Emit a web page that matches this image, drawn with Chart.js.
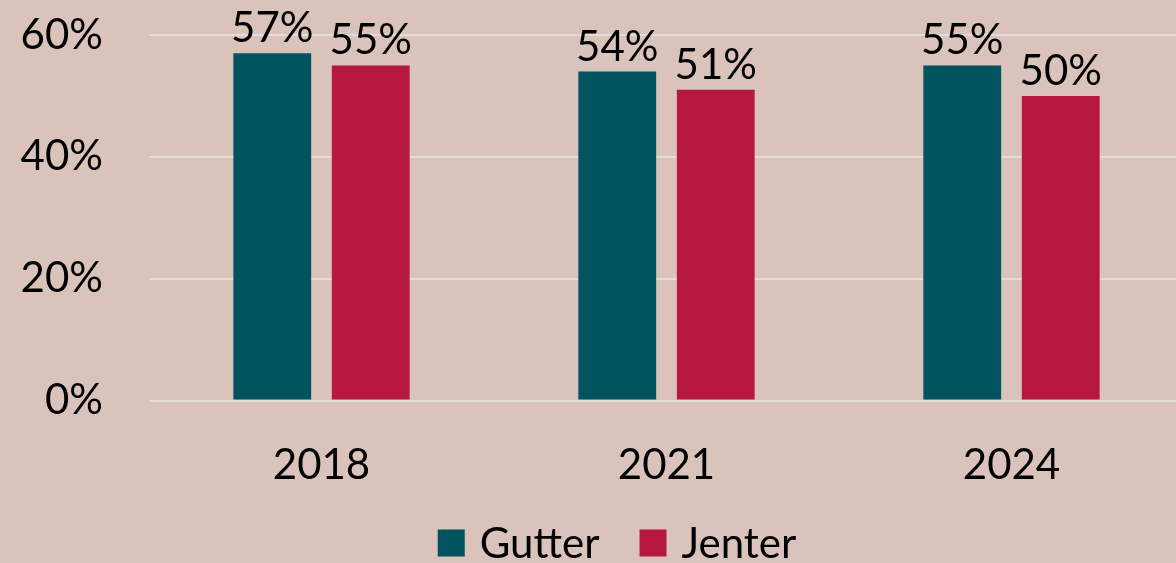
<!DOCTYPE html>
<html>
<head>
<meta charset="utf-8">
<script src="https://cdn.jsdelivr.net/npm/chart.js@4.4.1/dist/chart.umd.min.js"></script>
<style>
html,body{margin:0;padding:0;background:#d9c3bb;}
#wrap{width:1176px;height:563px;position:relative;}
</style>
</head>
<body>
<div id="wrap"><canvas id="c" width="1176" height="563"></canvas></div>
<script>
const categories = ['2018', '2021', '2024'];
const gutter = [57, 54, 55];
const jenter = [55, 51, 50];
const yTicks = [0, 20, 40, 60];
const seriesNames = ['Gutter', 'Jenter'];
const seriesColors = ['#00535f', '#b5173d'];

const FONT = 'Lato, "Open Sans", sans-serif';
const FS = 42;
const PLOT_OVERHANG = 8; // plot area extends slightly past the right edge in the original

const overhangPlugin = {
  id: 'overhang',
  afterLayout(chart) {
    const x = chart.scales.x;
    x.right += PLOT_OVERHANG;
    x.width += PLOT_OVERHANG;
    x.configure();
    chart.chartArea.right += PLOT_OVERHANG;
    chart.chartArea.width += PLOT_OVERHANG;
  }
};

const labelPlugin = {
  id: 'barLabels',
  afterDatasetsDraw(chart) {
    const ctx = chart.ctx;
    ctx.save();
    ctx.font = FS + 'px ' + FONT;
    ctx.fillStyle = '#000';
    ctx.textAlign = 'center';
    ctx.textBaseline = 'alphabetic';
    chart.data.datasets.forEach((ds, i) => {
      chart.getDatasetMeta(i).data.forEach((bar, j) => {
        ctx.fillText(ds.data[j] + '%', bar.x, bar.y - 11);
      });
    });
    ctx.restore();
  }
};

const legendPlugin = {
  id: 'customLegend',
  afterDraw(chart) {
    const ctx = chart.ctx;
    ctx.save();
    ctx.font = FS + 'px ' + FONT;
    ctx.textBaseline = 'middle';
    ctx.textAlign = 'left';
    const box = 27, gapText = 15, gapItem = 40;
    const items = chart.data.datasets.map(ds => ({ label: ds.label, color: ds.backgroundColor, w: ctx.measureText(ds.label).width }));
    let total = 0;
    items.forEach((it, i) => { total += box + gapText + it.w + (i < items.length - 1 ? gapItem : 0); });
    let x = 617 - total / 2;
    const cy = 543;
    items.forEach(it => {
      ctx.fillStyle = it.color;
      ctx.fillRect(x, cy - box / 2, box, box);
      ctx.fillStyle = '#000';
      ctx.fillText(it.label, x + box + gapText, cy + 1);
      x += box + gapText + it.w + gapItem;
    });
    ctx.restore();
  }
};

new Chart(document.getElementById('c'), {
  type: 'bar',
  data: {
    labels: categories,
    datasets: [
      { label: seriesNames[0], data: gutter, backgroundColor: seriesColors[0] },
      { label: seriesNames[1], data: jenter, backgroundColor: seriesColors[1] }
    ]
  },
  options: {
    responsive: false,
    animation: false,
    devicePixelRatio: 1,
    layout: { padding: { top: 35, right: 0, left: 0, bottom: 32 } },
    datasets: { bar: { categoryPercentage: 0.571, barPercentage: 0.79 } },
    plugins: {
      legend: { display: false },
      tooltip: { enabled: false }
    },
    scales: {
      y: {
        min: 0, max: 60,
        afterFit(s) { s.width = 149; s.paddingTop = 0; s.paddingBottom = 0; },
        afterBuildTicks(s) { s.ticks = yTicks.map(v => ({ value: v })); },
        ticks: {
          padding: 46,
          color: '#000',
          font: { size: FS, family: FONT },
          callback: v => v + '%'
        },
        grid: { color: '#e3dcd9', lineWidth: 2, drawTicks: false },
        border: { display: false }
      },
      x: {
        afterFit(s) { s.paddingLeft = 0; s.paddingRight = 0; },
        ticks: { padding: 40, color: '#000', font: { size: FS, family: FONT } },
        grid: { display: false, drawTicks: false },
        border: { display: false }
      }
    }
  },
  plugins: [overhangPlugin, labelPlugin, legendPlugin]
});
</script>
</body>
</html>
